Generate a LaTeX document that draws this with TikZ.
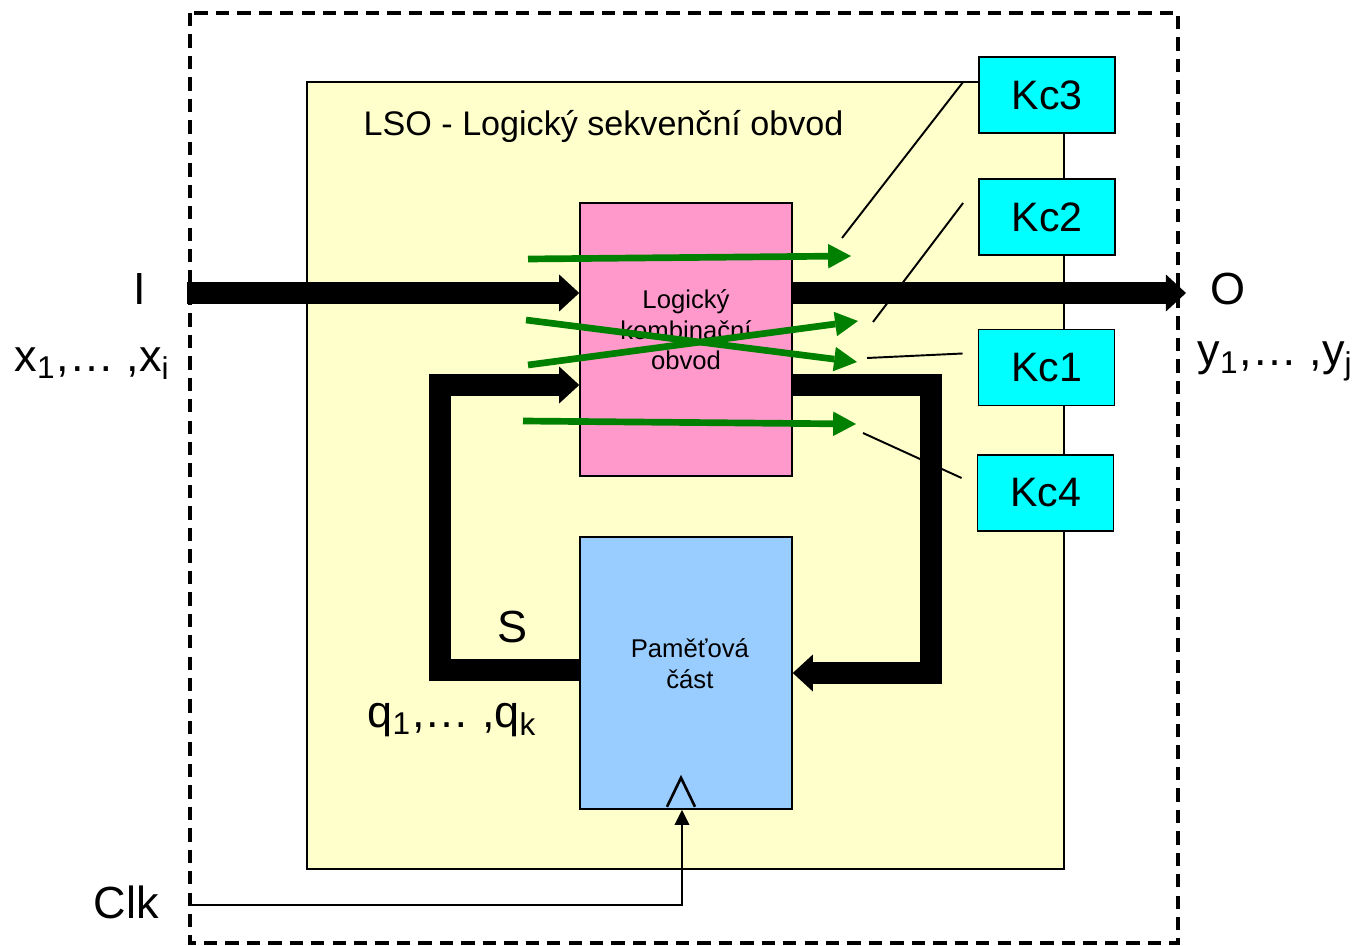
\documentclass[tikz,border=0pt]{standalone}
\usepackage{fontspec}
\setmainfont{Liberation Sans}
\usepackage{xcolor}
\usepackage{tikz}
\usetikzlibrary{arrows.meta,positioning,calc}

\definecolor{lsoyellow}{HTML}{FFFFCC}
\definecolor{lkopink}{HTML}{FF99CC}
\definecolor{pamblue}{HTML}{99CCFF}
\definecolor{kccyan}{RGB}{0,255,255}
\definecolor{kcgreen}{HTML}{008000}

\begin{document}
\begin{tikzpicture}[x=0.01cm, y=-0.01cm,
  bus/.style={line width=6.3pt, -{Triangle[length=5.7pt,width=10.5pt,line width=0pt]}},
  kcarrow/.style={kcgreen, line width=1.9pt, -{Triangle[length=6.5pt,width=7pt,line width=0pt]}},
  clkline/.style={line width=0.75pt},
  pointer/.style={line width=0.55pt},
  block/.style={draw, line width=0.4pt, minimum width=2.12cm, minimum height=2.73cm, inner sep=0pt},
  blocktext/.style={align=center, inner sep=0pt, font=\fontsize{7.3}{8.7}\selectfont},
  kcbox/.style={draw, line width=0.5pt, fill=kccyan, minimum width=1.36cm, minimum height=0.76cm, inner sep=0pt, font=\fontsize{11.7}{14}\selectfont},
  sig/.style={inner sep=0pt, font=\fontsize{12.8}{15}\selectfont}]
  \useasboundingbox (0,0) rectangle (1361,946);

  % Outer border and LSO area
  \draw[line width=0.95pt, dash pattern=on 3.8pt off 2.3pt] (190,13) rectangle (1178,943);
  \node[draw, line width=0.6pt, fill=lsoyellow, minimum width=7.57cm, minimum height=7.87cm, inner sep=0pt] (lso) at (685.5,475.5) {};
  \node[anchor=base west, inner sep=0pt, font=\fontsize{9.7}{12}\selectfont] (lsotitle) at (363,136) {LSO - Logický sekvenční obvod};

  % Fault classes
  \node[kcbox] (kc3) at (1047,95) {Kc3};
  \node[kcbox] (kc2) at (1047,217) {Kc2};
  \node[kcbox] (kc1) at (1046.5,367.5) {Kc1};
  \node[kcbox] (kc4) at (1045.5,493) {Kc4};

  % Blocks
  \node[block, fill=lkopink] (logic) at (686,339.5) {};
  \node[blocktext] (logictxt) at ([yshift=2.7pt]logic.center) {Logický\\kombinační\\obvod};
  \node[block, fill=pamblue, minimum height=2.72cm] (mem) at (686,673) {};
  \node[blocktext] (memtxt) at ([xshift=1.1pt,yshift=2.6pt]mem.center) {Paměťová\\část};

  % Buses
  \coordinate (in) at (187,293);
  \coordinate (out) at (1186,293);
  \coordinate (fbr) at (931,385);
  \coordinate (fbl) at (440,670);
  \draw[bus] (in) -- (in -| logic.west);
  \draw[bus] (logic.east |- out) -- (out);
  \draw[bus] (logic.east |- fbr) -- (fbr) |- (mem.east);
  \draw[bus] (mem.west |- fbl) -- (fbl) |- (logic.west |- fbr);

  % Clock
  \coordinate (clk) at (190,905);
  \draw[clkline, -{Triangle[length=4.3pt,width=4.3pt,line width=0pt]}] (clk) -| ($(mem.south)+(-4,0)$);
  \draw[clkline] ($(mem.south)+(-19,-3)$) -- ($(mem.south)+(-5,-32)$) -- ($(mem.south)+(9,-3)$);

  % Fault paths
  \coordinate (ga1) at (528,259);  \coordinate (gb1) at (851,256);
  \coordinate (ga2) at (526,320);  \coordinate (gb2) at (857,362);
  \coordinate (ga3) at (528,365);  \coordinate (gb3) at (858,321);
  \coordinate (ga4) at (523,421);  \coordinate (gb4) at (856,424);
  \draw[kcarrow] (ga1) -- (gb1);
  \draw[kcarrow] (ga2) -- (gb2);
  \draw[kcarrow] (ga3) -- (gb3);
  \draw[kcarrow] (ga4) -- (gb4);

  % Pointers to fault classes
  \coordinate (pk3) at (842,238);
  \coordinate (pk2) at (873,322);
  \coordinate (pk1) at (867,358);
  \coordinate (pk4) at (863,433);
  \draw[pointer] ($(kc3.west)+(-15,-13)$) -- (pk3);
  \draw[pointer] ($(kc2.west)+(-15,-14)$) -- (pk2);
  \draw[pointer] ($(kc1.west)+(-15,-14)$) -- (pk1);
  \draw[pointer] ($(kc4.west)+(-15,-15)$) -- (pk4);

  % Signal labels
  \node[sig] (ilabel) at (140,289) {I};
  \node[sig, anchor=base west] (xlabel) at (14,371) {x\textsubscript{1},… ,x\textsubscript{i}};
  \node[sig] (olabel) at (1227.5,289) {O};
  \node[sig, anchor=base west] (ylabel) at (1197,366) {y\textsubscript{1},… ,y\textsubscript{j}};
  \node[sig] (slabel) at (512.5,627) {S};
  \node[sig, anchor=base west] (qlabel) at (367,727) {q\textsubscript{1},… ,q\textsubscript{k}};
  \node[sig, anchor=base west] (clklabel) at (93,918) {Clk};
\end{tikzpicture}
\end{document}
